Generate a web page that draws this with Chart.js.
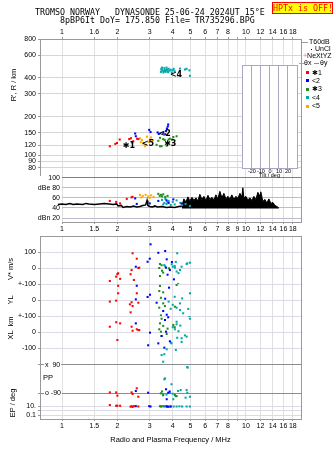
<!DOCTYPE html>
<html>
<head>
<meta charset="utf-8">
<script src="https://cdn.jsdelivr.net/npm/chart.js@4"></script>
<style>
  body { margin:0; background:#fff; }
  #wrap { position:relative; width:335px; height:451px; overflow:hidden; font-family:'Liberation Sans', Arial, sans-serif; color:#000; }
  canvas { position:absolute; left:0; top:0; }
  .hd { position:absolute; font:8.3px 'DejaVu Sans Mono', monospace; white-space:pre; line-height:9px; }
  #hptx { position:absolute; left:272px; top:2px; width:59px; height:10px; background:#ffff00; border:1px solid #ff0000; color:#ff0000;
          font:8.3px 'DejaVu Sans Mono', monospace; line-height:10px; text-align:center; white-space:pre; }
  .lg { position:absolute; font-size:7px; white-space:nowrap; line-height:8px; }
  .mk { position:absolute; }
  .vt { position:absolute; transform:translate(-50%,-50%) rotate(-90deg); white-space:nowrap; font-size:7.5px; line-height:9px; }
  .ht { position:absolute; font-size:7.5px; white-space:nowrap; line-height:9px; }
</style>
</head>
<body>
<div id="wrap">
  <canvas id="cTop" width="335" height="451"></canvas>
  <canvas id="cDb" width="335" height="451"></canvas>
  <canvas id="cLow" width="335" height="451"></canvas>
  <canvas id="cTilt" width="335" height="451"></canvas>

  <div class="hd" style="left:35px;top:8px">TROMSO NORWAY   DYNASONDE 25-06-24 2024UT 15°E</div>
  <div class="hd" style="left:60px;top:16px">8pBP6It DoY= 175.850 File= TR735296.BPG</div>
  <div id="hptx">HPTx is OFF!</div>

  <!-- legend on the right -->
  <div class="mk" style="left:302px;top:42px;width:6px;height:1px;background:#999"></div>
  <div class="lg" style="left:309px;top:38px">T60dB</div>
  <div class="mk" style="left:311px;top:49px;width:1px;height:1px;background:#000"></div>
  <div class="lg" style="left:315px;top:45px">UnCl</div>
  <div class="lg" style="left:303px;top:52px"><span style="color:#ff7090">+</span>NeXtYZ</div>
  <div class="mk" style="left:299px;top:63px;width:5px;height:1px;background:#ff8080"></div>
  <div class="lg" style="left:304px;top:59px">θx</div>
  <div class="mk" style="left:314px;top:63px;width:5px;height:1px;background:#8080ff"></div>
  <div class="lg" style="left:320px;top:59px">θy</div>
  <div class="mk" style="left:306px;top:71px;width:3px;height:3px;background:#ff0000"></div>
  <div class="lg" style="left:312px;top:69px">✱1</div>
  <div class="mk" style="left:306px;top:79px;width:3px;height:3px;background:#0000ff"></div>
  <div class="lg" style="left:312px;top:77px">&lt;2</div>
  <div class="mk" style="left:306px;top:88px;width:3px;height:3px;background:#1e8c1e"></div>
  <div class="lg" style="left:312px;top:85px">✱3</div>
  <div class="mk" style="left:306px;top:96px;width:3px;height:3px;background:#00a8a8"></div>
  <div class="lg" style="left:312px;top:94px">&lt;4</div>
  <div class="mk" style="left:306px;top:105px;width:3px;height:3px;background:#ffaa00"></div>
  <div class="lg" style="left:312px;top:102px">&lt;5</div>

  <!-- side titles -->
  <div class="vt" style="left:13px;top:85px">R', R / km</div>
  <div class="vt" style="left:10px;top:269px">V* m/s</div>
  <div class="vt" style="left:10px;top:300px">YL</div>
  <div class="vt" style="left:10px;top:328px">XL &nbsp;km</div>
  <div class="vt" style="left:12px;top:403px">EP / deg</div>
  <div class="ht" style="left:43px;top:373px">PP</div>
</div>

<script>
// frequency axis (MHz)
const freqTicks = [1, 1.5, 2, 3, 4, 5, 6, 7, 8, 9, 10, 12, 14, 16, 18];
const topFreqLabels = ['1', '1.6', '2', '3', '4', '5', '6', '7', '8', '', '10', '12', '14', '16', '18'];
const midFreqLabels = ['1', '1.5', '2', '3', '4', '5', '6', '7', '8', '9', '10', '12', '14', '16', '18'];
const lowFreqLabels = ['1', '1.5', '2', '3', '4', '5', '6', '7', '8', '', '10', '12', '14', '16', '18'];
const heightTicks = [800, 600, 400, 300, 200, 150, 120, 100, 90, 80];
const dbTicks = [100, 80, 60, 40, 20];
const dbLabels = ['100', 'dBe 80', '60', '40', 'dBn 20'];
const tiltTicks = [-20, -10, 0, 10, 20];

// echo traces: 1 red, 2 blue, 3 green, 4 teal, 5 orange  -> [MHz, value]
const t1Height = [[1.82,118],[1.95,123],[1.99,125],[2.06,133],[2.32,134],[2.37,136],[2.41,126],[2.44,129],[2.56,135],[2.6,134]];
const t2Height = [[2.5,148],[2.52,141],[2.98,158],[3.03,152],[3.31,151],[3.36,147],[3.55,150],[3.64,146],[3.68,155],[3.72,162],[3.76,168],[3.78,174]];
const t3Height = [[3.27,121],[3.34,130],[3.41,118],[3.41,137],[3.48,118],[3.55,134],[3.62,132],[3.71,119],[3.8,133],[3.86,135],[3.96,133],[4.03,139],[4.2,141]];
const t4Height = [[3.45,445],[3.47,470],[3.48,462],[3.5,480],[3.53,455],[3.56,440],[3.58,452],[3.6,475],[3.63,460],[3.66,445],[3.68,458],[3.7,480],
                  [3.73,465],[3.76,450],[3.78,442],[3.8,470],[3.85,455],[3.9,462],[3.95,440],[4.0,458],[4.05,470],[4.1,450],[4.38,472],[4.66,464],[4.76,470],[4.93,457],[4.96,415]];
const t5Height = [[2.65,136],[2.68,127],[2.72,132],[2.76,124],[2.83,118],[2.85,121],[2.9,140],[2.95,128],[3.0,133],[3.05,138],[3.12,131]];

const traceLabelText = ['✱1', '<5', '<2', '✱3', '<4'];
const traceLabelFreq = [2.31, 2.93, 3.62, 3.88, 4.17];
const traceLabelHeight = [118, 124, 146, 124, 425];

// amplitude panel (dB)
const t1Db = [[1.82,54],[1.97,52],[2.07,49],[2.25,58],[2.39,61],[2.42,62]];
const t2Db = [[2.5,59],[2.55,48],[3.0,49],[3.34,54],[3.7,55],[3.8,50],[4.03,57],[4.47,49]];
const t3Db = [[3.34,68],[3.4,64],[3.45,66],[3.5,63],[3.55,67],[3.64,62],[3.75,64]];
const t4Db = [[3.5,56],[3.55,47],[3.6,50],[3.65,58],[3.7,48],[3.75,52],[3.8,54],[3.9,46],[4.0,52],[4.1,47],[4.2,55],[4.4,50],[4.5,46],[4.7,48],[4.96,44]];
const t5Db = [[2.65,66],[2.7,61],[2.75,64],[2.85,66],[2.95,63],[3.0,60],[3.05,65],[3.15,62]];

const noiseLow = [[0.79,48],[0.85,47],[0.9,49],[0.95,47],[1.0,48],[1.05,47],[1.1,49],[1.15,47],[1.2,48],[1.3,47],[1.35,49],[1.4,48],[1.5,47],
                  [1.6,48],[1.7,49],[1.8,48],[1.9,47],[1.98,48],[2.02,44],[2.1,45],[2.15,41],[2.25,43],[2.35,42],[2.45,44],[2.55,42],[2.65,43],
                  [2.75,45],[2.85,46],[2.9,55],[2.93,45],[3.0,43],[3.1,42],[3.2,44],[3.3,42],[3.5,43],[3.7,41],[3.9,42],[4.1,41],[4.3,43],[4.49,44]];
const noiseHigh = [[4.49,44],[4.6,58],[4.72,52],[4.84,62],[4.96,54],[5.09,61],[5.22,55],[5.35,60],[5.48,54],[5.62,67],[5.77,57],[5.91,63],
                   [6.06,55],[6.22,65],[6.37,57],[6.54,61],[6.7,56],[6.87,66],[7.04,58],[7.22,73],[7.41,60],[7.59,69],[7.79,58],[7.98,63],
                   [8.19,58],[8.39,66],[8.61,57],[8.83,63],[9.05,59],[9.28,69],[9.51,62],[9.63,80],[9.75,60],[10.0,63],[10.25,56],[10.51,60],
                   [10.78,55],[11.05,63],[11.33,57],[11.62,71],[11.91,63],[12.06,72],[12.37,53],[12.68,57],[13.0,50],[13.34,58],[13.67,49],
                   [14.02,51],[14.38,45],[14.74,43],[15.11,40]];

// lower panel: V* (m/s), YL (km), XL (km), PP (deg), EP (deg)
const t1V  = [[1.82,-79],[1.97,-52],[2.0,-36],[2.02,-31],[2.07,-66],[2.36,-37],[2.39,-11],[2.42,94],[2.46,-73],[2.55,60],[2.6,2],[2.63,4]];
const t1YL = [[1.82,-10],[1.97,-4],[2.02,89],[2.02,42],[2.34,-27],[2.36,-77],[2.39,-14],[2.42,-38],[2.55,42],[2.6,-17]];
const t1XL = [[1.82,33],[1.97,61],[2.0,-50],[2.07,54],[2.39,33],[2.42,8],[2.55,17],[2.6,12],[2.63,12]];
const t1PP = [[1.82,-86],[1.97,-86],[2.0,-107],[2.39,-86],[2.42,-96],[2.55,-60],[2.6,-114]];
const t1EP = [[1.82,22],[1.97,15],[2.0,15],[2.07,15],[2.36,9],[2.39,12],[2.42,8],[2.46,12],[2.6,10]];

const t2V  = [[2.52,10],[2.92,41],[3.0,60],[3.03,150],[3.34,97],[3.64,108],[3.68,4],[3.71,56],[3.75,-40],[3.86,-11],[3.96,39],[4.06,-69]];
const t2YL = [[2.52,4],[2.55,89],[2.92,19],[3.01,33],[3.27,-17],[3.55,-69],[3.64,8],[3.71,-92],[3.82,77]];
const t2XL = [[2.52,54],[2.94,-83],[3.01,-4],[3.34,-71],[3.48,-25],[3.6,-98],[3.63,75],[3.68,2],[3.78,92],[3.86,-58]];
const t2PP = [[2.52,-77],[2.94,-88],[3.68,-66],[3.71,-130],[3.78,-88],[3.85,-80]];
const t2EP = [[2.52,12],[2.98,12],[3.03,10],[3.71,10],[3.78,9],[3.9,10]];

const t3V  = [[3.38,2],[3.41,27],[3.41,-48],[3.48,19],[3.5,-15],[3.55,-27],[3.82,0]];
const t3YL = [[3.38,56],[3.38,-48],[3.41,88],[3.45,14],[3.45,-96],[3.55,48],[3.55,-21],[3.63,-38],[4.11,-42],[4.2,94]];
const t3XL = [[3.38,17],[3.41,54],[3.45,2],[3.48,83],[3.48,-25],[3.55,38],[3.71,-12],[3.75,21],[4.03,44],[4.1,30]];
const t3PP = [[3.45,-92],[3.5,-80],[3.55,-100],[4.11,-103],[4.2,-110]];
const t3EP = [[3.41,12],[3.45,10],[3.55,12],[3.7,11]];

const t4V  = [[3.6,20],[3.64,12],[3.95,25],[4.0,10],[4.1,15],[4.11,4],[4.16,40],[4.2,-20],[4.23,94],[4.28,-98],[4.3,-30],[4.38,-11],[4.47,10],[4.76,27],[4.8,31],[4.96,35]];
const t4YL = [[3.8,-10],[3.9,-55],[4.0,-30],[4.1,20],[4.2,-48],[4.38,-63],[4.38,-21],[4.5,10],[4.56,-83],[4.86,-56],[4.96,42]];
const t4XL = [[3.48,-144],[3.6,-139],[3.71,-108],[3.91,-67],[3.94,-71],[4.0,30],[4.11,17],[4.16,-112],[4.2,48],[4.2,64],[4.23,-36],[4.3,5],
              [4.4,40],[4.47,-62],[4.47,-39],[4.66,-21],[4.76,-29],[4.93,100],[4.96,83]];
const t4PP = [[3.55,111],[3.55,-105],[3.6,-2],[3.63,4],[3.7,-100],[3.85,-90],[3.94,-34],[4.0,-95],[4.03,-130],[4.15,-110],[4.28,-77],[4.42,-71],
              [4.7,-120],[4.76,-71],[4.8,77],[4.8,-88],[4.82,73],[4.96,-114]];
const t4EP = [[3.48,11],[3.6,10],[3.65,12],[3.75,10],[3.85,9],[3.9,11],[4.05,10],[4.2,10],[4.35,11],[4.5,10],[4.76,10],[4.96,10]];

const traceColors = ['#ff0000', '#0000ff', '#1e8c1e', '#00a8a8', '#ffaa00'];

Chart.defaults.font.family = "'Liberation Sans', Arial, sans-serif";
Chart.defaults.font.size = 7;
Chart.defaults.color = '#000';
Chart.defaults.animation = false;
Chart.defaults.responsive = false;
Chart.defaults.devicePixelRatio = 1;
Chart.defaults.plugins.legend.display = false;
Chart.defaults.plugins.tooltip.enabled = false;

const pts = a => a.map(([x, y]) => ({x, y}));
function dots(data, color, axis) {
  return { data: pts(data), yAxisID: axis, backgroundColor: color, borderWidth: 0, pointStyle: 'rect', pointRadius: 1.45 };
}

// strokes the chart area edges that the axes don't draw
const framePlugin = {
  id: 'frame',
  afterDraw(chart, args, opts) {
    const {ctx, chartArea: a} = chart;
    const s = opts.sides || '';
    ctx.save();
    ctx.strokeStyle = opts.color || '#999';
    ctx.lineWidth = 1;
    ctx.beginPath();
    if (s.includes('t')) { ctx.moveTo(a.left, a.top + 0.5); ctx.lineTo(a.right, a.top + 0.5); }
    if (s.includes('b')) { ctx.moveTo(a.left, a.bottom - 0.5); ctx.lineTo(a.right, a.bottom - 0.5); }
    if (s.includes('l')) { ctx.moveTo(a.left + 0.5, a.top); ctx.lineTo(a.left + 0.5, a.bottom); }
    if (s.includes('r')) { ctx.moveTo(a.right + 0.5, a.top); ctx.lineTo(a.right + 0.5, a.bottom); }
    ctx.stroke();
    ctx.restore();
  }
};
const whiteBg = {
  id: 'whiteBg',
  beforeDraw(chart) {
    const {ctx, chartArea: a} = chart;
    ctx.save(); ctx.fillStyle = '#fff';
    ctx.fillRect(a.left, a.top, a.right - a.left, a.bottom - a.top);
    ctx.restore();
  }
};
const traceLabels = {
  id: 'traceLabels',
  afterDatasetsDraw(chart) {
    const {ctx, scales: {x, y}} = chart;
    ctx.save();
    ctx.font = "bold 8px 'DejaVu Sans', sans-serif";
    ctx.fillStyle = '#000';
    ctx.textAlign = 'center';
    ctx.textBaseline = 'middle';
    traceLabelText.forEach((t, i) => {
      ctx.fillText(t, x.getPixelForValue(traceLabelFreq[i]), y.getPixelForValue(traceLabelHeight[i]));
    });
    ctx.restore();
  }
};

function freqAxis(pos, labels, min, h) {
  return {
    type: 'logarithmic', position: pos, min: min, max: 19.94,
    afterBuildTicks: s => { s.ticks = freqTicks.map(v => ({value: v})); },
    afterFit: s => { s.height = h; },
    ticks: { autoSkip: false, maxRotation: 0, padding: 1, callback: (v, i) => labels[i] },
    grid: { color: '#e0e0e0', tickLength: 2, tickColor: '#999' },
    border: { color: '#999' }
  };
}

// top panel: virtual height
new Chart(document.getElementById('cTop'), {
  type: 'scatter',
  data: { datasets: [
    dots(t1Height, traceColors[0], 'y'), dots(t2Height, traceColors[1], 'y'), dots(t3Height, traceColors[2], 'y'),
    dots(t4Height, traceColors[3], 'y'), dots(t5Height, traceColors[4], 'y')
  ] },
  options: {
    layout: { padding: { left: 0, top: 0, right: 34, bottom: 276 } },
    scales: {
      x: freqAxis('top', topFreqLabels, 0.759, 39),
      y: {
        type: 'logarithmic', min: 70.6, max: 800,
        afterBuildTicks: s => { s.ticks = heightTicks.map(v => ({value: v})); },
        afterFit: s => { s.width = 40; },
        ticks: { padding: 2, autoSkip: false, callback: v => String(v) },
        grid: { color: '#d6d6d6', tickLength: 2, tickColor: '#999' },
        border: { color: '#999' }
      }
    },
    plugins: { frame: { sides: 'r' } }
  },
  plugins: [framePlugin, traceLabels]
});

// amplitude panel
new Chart(document.getElementById('cDb'), {
  type: 'scatter',
  data: { datasets: [
    dots(t1Db, traceColors[0], 'y'), dots(t2Db, traceColors[1], 'y'), dots(t3Db, traceColors[2], 'y'),
    dots(t4Db, traceColors[3], 'y'), dots(t5Db, traceColors[4], 'y'),
    { data: pts(noiseLow), showLine: true, borderColor: '#000', borderWidth: 1.5, pointRadius: 0, clip: false },
    { data: pts(noiseHigh), showLine: true, borderColor: '#000', borderWidth: 1, pointRadius: 0, backgroundColor: '#000', fill: { value: 39 } }
  ] },
  options: {
    layout: { padding: { left: 0, top: 175, right: 34, bottom: 217 } },
    scales: {
      x: freqAxis('bottom', midFreqLabels, 1, 12),
      y: {
        type: 'linear', min: 12.1, max: 105.4,
        afterBuildTicks: s => { s.ticks = dbTicks.map(v => ({value: v})); },
        afterFit: s => { s.width = 62; },
        ticks: { padding: 2, callback: (v, i) => dbLabels[i] },
        grid: { color: c => c.tick && c.tick.value === 100 ? '#808080' : '#bcbccc', tickLength: 0 },
        border: { display: false }
      }
    },
    plugins: { frame: { sides: 'r' } }
  },
  plugins: [framePlugin]
});

// lower panel: stacked axes for V*, YL, XL, PP, EP
function lowAxis(type, weight, min, max, ticks, labels, extraTicks, gridColor) {
  return {
    type, position: 'left', stack: 'low', stackWeight: weight, min, max,
    afterBuildTicks: s => { s.ticks = ticks.map(v => ({value: v})); },
    afterFit: s => { s.width = 40; },
    ticks: Object.assign({ padding: 2, autoSkip: false, callback: (v, i) => labels[i] }, extraTicks || {}),
    grid: { color: gridColor || '#dcdce6', tickLength: 2, tickColor: '#999' },
    border: { color: '#999' }
  };
}
const lowSets = [];
[[t1V, t1YL, t1XL, t1PP, t1EP], [t2V, t2YL, t2XL, t2PP, t2EP], [t3V, t3YL, t3XL, t3PP, t3EP], [t4V, t4YL, t4XL, t4PP, t4EP]]
  .forEach((group, k) => {
    ['yV', 'yYL', 'yXL', 'yPP', 'yEP'].forEach((ax, j) => lowSets.push(dots(group[j], traceColors[k], ax)));
  });

new Chart(document.getElementById('cLow'), {
  type: 'scatter',
  data: { datasets: lowSets },
  options: {
    layout: { padding: { left: 0, top: 236, right: 34, bottom: 0 } },
    scales: {
      x: Object.assign(freqAxis('bottom', lowFreqLabels, 0.759, 32), {
        title: { display: true, text: 'Radio and Plasma Frequency / MHz', font: { size: 7.5 }, padding: { top: 0, bottom: 7 } }
      }),
      yEP: lowAxis('logarithmic', 18, 0.01146, 196.8, [10, 1, 0.1], ['10.', '', '0.1']),
      yPP: lowAxis('linear', 44, -141.4, 141.4, [90, -90], ['x  90', 'o -90'],
                   { mirror: true, padding: 5, showLabelBackdrop: true, backdropColor: '#fff', backdropPadding: 1 }, '#8c8c8c'),
      yXL: lowAxis('linear', 41, -156.25, 100, [100, 0, -100], ['+-100', '0', '-100']),
      yYL: lowAxis('linear', 32, -100, 100, [100, 0, -100], ['+-100', '0', '']),
      yV:  lowAxis('linear', 48, -98.1, 201.9, [100, 0], ['100', '0'])
    },
    plugins: { frame: { sides: 'tr' } }
  },
  plugins: [framePlugin]
});

// tilt inset
new Chart(document.getElementById('cTilt'), {
  type: 'scatter',
  data: { datasets: [] },
  options: {
    layout: { padding: { left: 242, top: 65, right: 38, bottom: 272 } },
    scales: {
      x: {
        type: 'linear', min: -31, max: 30,
        afterBuildTicks: s => { s.ticks = tiltTicks.map(v => ({value: v})); },
        afterFit: s => { s.height = 11; },
        ticks: { font: { size: 5.5 }, padding: 0, maxRotation: 0, autoSkip: false },
        grid: { color: '#a8a8c4', tickLength: 0 },
        border: { color: '#a8a8c4' },
        title: { display: true, text: 'Tilt / deg', font: { size: 5.5 }, padding: 0 }
      },
      y: { display: false, min: 0, max: 1 }
    },
    plugins: { frame: { sides: 'tlr', color: '#a8a8c4' } }
  },
  plugins: [whiteBg, framePlugin]
});
</script>
</body>
</html>
